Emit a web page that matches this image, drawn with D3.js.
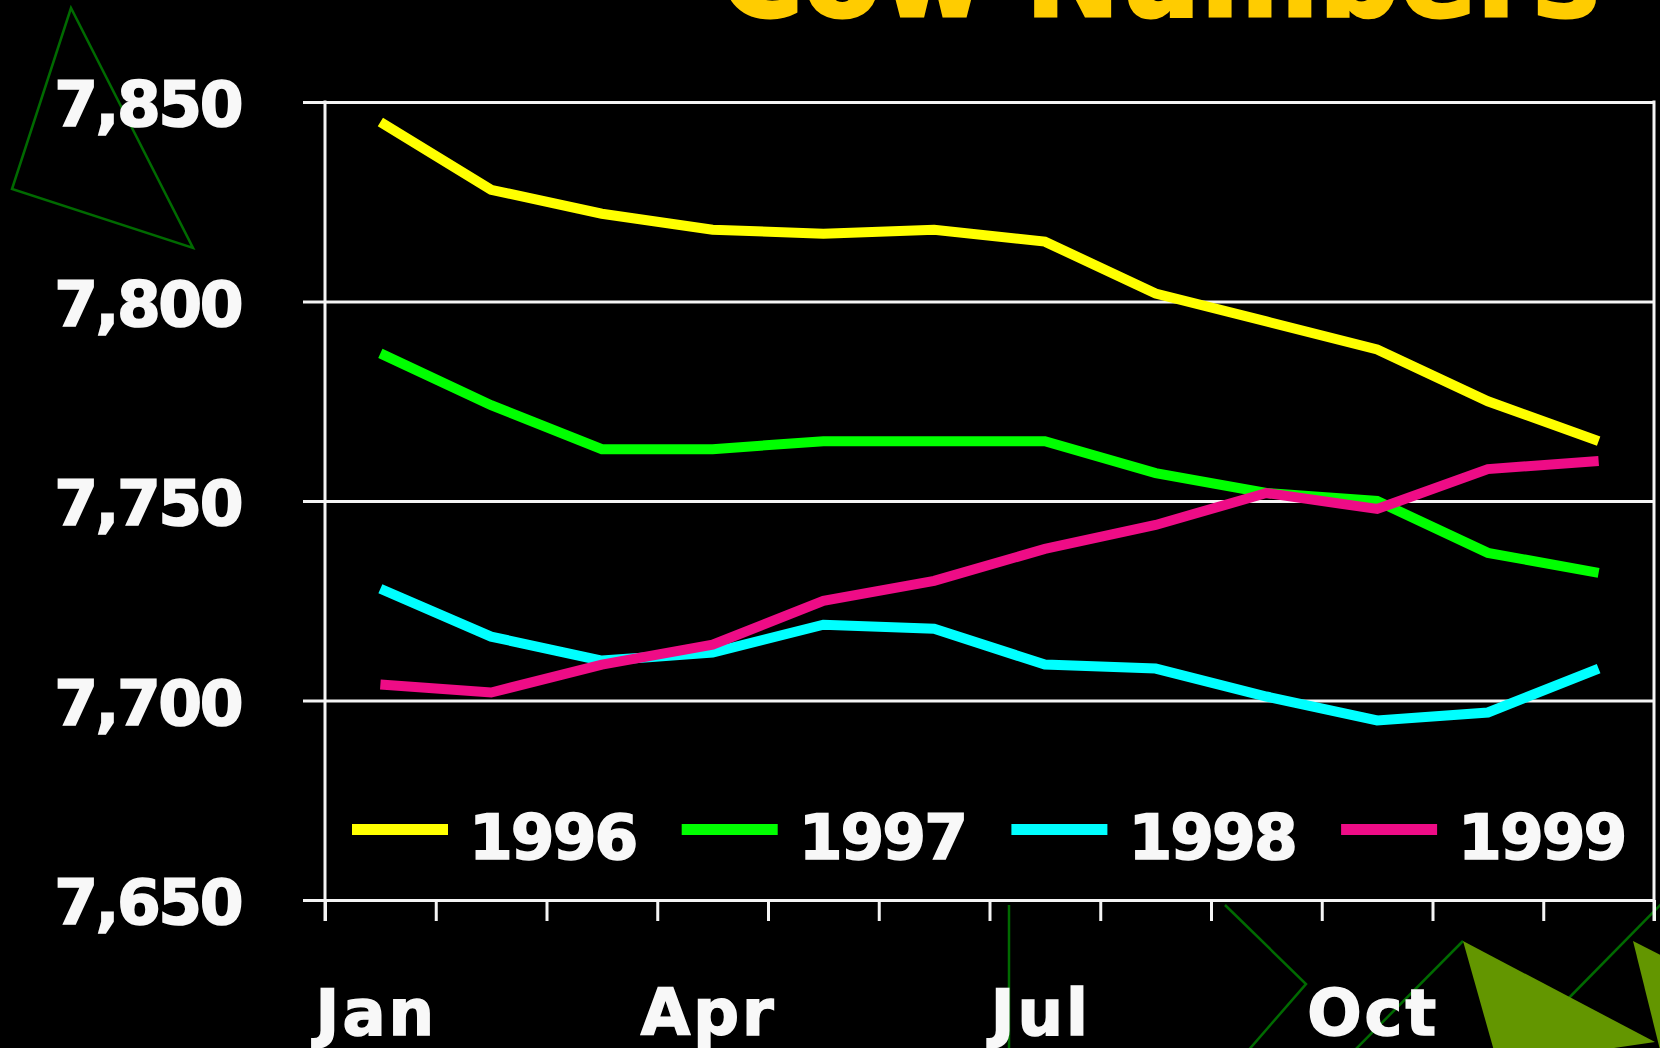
<!DOCTYPE html>
<html>
<head>
<meta charset="utf-8">
<title>Cow Numbers</title>
<script src="https://cdn.jsdelivr.net/npm/d3@7"></script>
<style>
  html, body { margin: 0; padding: 0; background: #000; }
  svg { display: block; }
  .lbl { font-family: "DejaVu Sans", sans-serif; font-weight: bold; fill: #f8f8f8; stroke: #f8f8f8; stroke-width: 1.6px; }
</style>
</head>
<body>
<div id="chart"></div>
<script>
  // data
  var months = ["Jan","Feb","Mar","Apr","May","Jun","Jul","Aug","Sep","Oct","Nov","Dec"];
  var labelMonths = ["Jan","Apr","Jul","Oct"];
  var years = ["1996","1997","1998","1999"];
  var y1996 = [7845, 7828, 7822, 7818, 7817, 7818, 7815, 7802, 7795, 7788, 7775, 7765];
  var y1997 = [7787, 7774, 7763, 7763, 7765, 7765, 7765, 7757, 7752, 7750, 7737, 7732];
  var y1998 = [7728, 7716, 7710, 7712, 7719, 7718, 7709, 7708, 7701, 7695, 7697, 7708];
  var y1999 = [7704, 7702, 7709, 7714, 7725, 7730, 7738, 7744, 7752, 7748, 7758, 7760];
  var yTicks = [7650, 7700, 7750, 7800, 7850];
  var title = "Cow Numbers";

  var series = [y1996, y1997, y1998, y1999];
  var colors = ["#ffff00", "#00ff00", "#00ffff", "#ee0c86"];

  var W = 1660, H = 1048;
  // (don't call it "top", that one belongs to window)
  var plotL = 325, plotR = 1654, plotT = 102, plotB = 900;

  var svg = d3.select("#chart").append("svg")
      .attr("width", W)
      .attr("height", H);

  svg.append("rect").attr("width", W).attr("height", H).attr("fill", "#000");

  // decoration shapes behind everything
  var deco = svg.append("g");
  deco.append("path")
      .attr("d", "M71,8 L12,189 L193,248 Z")
      .attr("fill", "none").attr("stroke", "#006a00").attr("stroke-width", 2.5);
  deco.append("path")
      .attr("d", "M1009,905 L1009,1060")
      .attr("fill", "none").attr("stroke", "#006a00").attr("stroke-width", 2.5);
  deco.append("path")
      .attr("d", "M1225,905 L1306,984 L1240,1060")
      .attr("fill", "none").attr("stroke", "#006a00").attr("stroke-width", 2.5);
  deco.append("path")
      .attr("d", "M1345,1060 L1463,941")
      .attr("fill", "none").attr("stroke", "#006a00").attr("stroke-width", 2.5);
  deco.append("path")
      .attr("d", "M1560,1007 L1680,885")
      .attr("fill", "none").attr("stroke", "#006a00").attr("stroke-width", 2.5);
  deco.append("path")
      .attr("d", "M1463,941 L1655,1042 L1498,1065 Z")
      .attr("fill", "#639600");
  deco.append("path")
      .attr("d", "M1633,941 L1700,975 L1665,1070 Z")
      .attr("fill", "#639600");

  // title, mostly above the top edge (the original slide cuts it off too)
  svg.append("text")
      .attr("class", "lbl")
      .attr("x", 720).attr("y", 16)
      .attr("textLength", 880)
      .attr("lengthAdjust", "spacingAndGlyphs")
      .style("font-size", "116px")
      .style("fill", "#ffcc00")
      .style("stroke", "#ffcc00")
      .style("stroke-width", "3px")
      .text(title);

  var x = d3.scaleBand().domain(months).range([plotL, plotR]);
  var xTickScale = d3.scaleLinear().domain([0, months.length]).range([plotL, plotR]);
  var y = d3.scaleLinear().domain([7650, 7850]).range([plotB, plotT]);

  // gridlines plus the little ticks on the left
  var grid = svg.append("g")
      .attr("transform", "translate(303,0)")
      .call(d3.axisRight(y).tickValues(yTicks).tickSize(plotR - 303).tickFormat(""));
  grid.select(".domain").remove();
  grid.selectAll("line").attr("stroke", "#f4f4f4").attr("stroke-width", 3);

  // y labels
  var yAxis = svg.append("g")
      .attr("transform", "translate(" + plotL + ",0)")
      .call(d3.axisLeft(y).tickValues(yTicks).tickSize(0).tickPadding(84).tickFormat(d3.format(",")));
  yAxis.select(".domain").remove();
  yAxis.selectAll("text")
      .attr("class", "lbl")
      .attr("dy", "0.38em")
      .attr("fill", null)
      .style("font-size", "63px")
      .style("letter-spacing", "-2.5px");

  // x tick marks at band edges
  var xTicks = svg.append("g")
      .attr("transform", "translate(0," + plotB + ")")
      .call(d3.axisBottom(xTickScale).ticks(months.length).tickSize(21).tickFormat(""));
  xTicks.select(".domain").remove();
  xTicks.selectAll("line").attr("stroke", "#f4f4f4").attr("stroke-width", 3);

  // x labels every 3 months
  var xAxis = svg.append("g")
      .attr("transform", "translate(-4," + plotB + ")")
      .call(d3.axisBottom(x).tickValues(labelMonths).tickSize(0).tickPadding(88));
  xAxis.select(".domain").remove();
  xAxis.selectAll("text")
      .attr("class", "lbl")
      .attr("fill", null)
      .attr("dy", "0.73em")
      .style("font-size", "64px")
      .style("letter-spacing", "3px");

  // frame lines
  svg.append("line").attr("x1", plotL).attr("x2", plotL).attr("y1", plotT - 1.5).attr("y2", plotB + 21)
      .attr("stroke", "#f4f4f4").attr("stroke-width", 3);
  svg.append("line").attr("x1", plotR).attr("x2", plotR).attr("y1", plotT - 1.5).attr("y2", plotB + 21)
      .attr("stroke", "#f4f4f4").attr("stroke-width", 3);

  // series lines
  var line = d3.line()
      .x(function(d, i){ return x(months[i]) + x.bandwidth() / 2; })
      .y(function(d){ return y(d); });

  svg.selectAll(".series")
      .data(series)
      .enter().append("path")
      .attr("class", "series")
      .attr("d", line)
      .attr("fill", "none")
      .attr("stroke", function(d, i){ return colors[i]; })
      .attr("stroke-width", 10)
      .attr("stroke-linejoin", "miter");

  // legend inside the plot
  var legend = svg.selectAll(".legend")
      .data(years)
      .enter().append("g")
      .attr("class", "legend")
      .attr("transform", function(d, i){ return "translate(" + (352 + i * 329.7) + ",829.5)"; });
  legend.append("line")
      .attr("x1", 0).attr("x2", 96)
      .attr("stroke", function(d, i){ return colors[i]; })
      .attr("stroke-width", 11);
  legend.append("text")
      .attr("class", "lbl")
      .attr("x", 117).attr("y", 29)
      .style("font-size", "63px")
      .style("letter-spacing", "-2px")
      .text(function(d){ return d; });
</script>
</body>
</html>
